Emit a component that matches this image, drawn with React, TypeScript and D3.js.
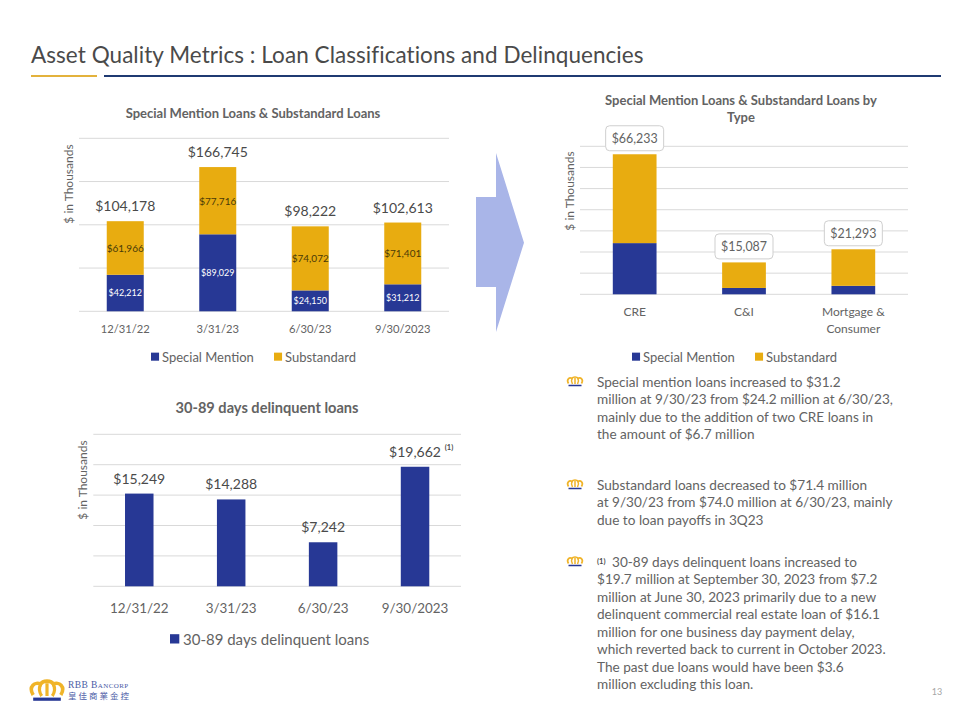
import React from "react";
import * as d3 from "d3";

const FONT = "Lato, 'Noto Sans', sans-serif";
const INK = "#636363";
const DARK = "#4a4a4a";
const GRID = "#d9d9d9";
const BLUE = "#273895";
const GOLD = "#e8ac10";

const quarters = ["12/31/22", "3/31/23", "6/30/23", "9/30/2023"];
const specialMention = [42212, 89029, 24150, 31212];
const substandard = [61966, 77716, 74072, 71401];
const quarterTotals = [104178, 166745, 98222, 102613];

const loanTypes = ["CRE", "C&I", "Mortgage &|Consumer"];
const typeSpecial = [24212, 3000, 4000];
const typeSubstandard = [42021, 12087, 17293];
const typeTotals = [66233, 15087, 21293];

const delinquent = [15249, 14288, 7242, 19662];

const bulletOne = [
  "Special mention loans increased to $31.2",
  "million at 9/30/23 from $24.2 million at 6/30/23,",
  "mainly due to the addition of two CRE loans in",
  "the amount of $6.7 million",
];
const bulletTwo = [
  "Substandard loans decreased to $71.4 million",
  "at 9/30/23 from $74.0 million at 6/30/23, mainly",
  "due to loan payoffs in 3Q23",
];
const bulletThree = [
  "30-89 days delinquent loans increased to",
  "$19.7 million at September 30, 2023 from $7.2",
  "million at June 30, 2023 primarily due to a new",
  "delinquent commercial real estate loan of $16.1",
  "million for one business day payment delay,",
  "which reverted back to current in October 2023.",
  "The past due loans would have been $3.6",
  "million excluding this loan.",
];

const money = (v: number) => "$" + d3.format(",")(v);

function Crown({ x, y, w }: { x: number; y: number; w: number }) {
  const s = w / 32;
  return (
    <g transform={`translate(${x},${y}) scale(${s})`} fill="none">
      <path d="M3 15C-2 7 5 2 10 5C12 1 20 1 22 5C27 2 34 7 29 15" stroke="#f0b429" strokeWidth={3.4} />
      <path d="M10 5C8 9 9 13 11 16M22 5C24 9 23 13 21 16M16 4V16" stroke="#f0b429" strokeWidth={3} />
      <rect x={3} y={17.5} width={26} height={3} fill={BLUE} />
    </g>
  );
}

function Legend({ x, y, size, gap, items }: { x: number; y: number; size: number; gap: number; items: { label: string; color: string; dx: number }[] }) {
  const sw = size * 0.62;
  return (
    <g>
      {items.map((it) => (
        <g key={it.label}>
          <rect x={x + it.dx} y={y - size * 0.72} width={sw} height={sw} fill={it.color} />
          <text x={x + it.dx + gap} y={y} fontSize={size} fill={INK}>{it.label}</text>
        </g>
      ))}
    </g>
  );
}

function YTitle({ x, y, size }: { x: number; y: number; size: number }) {
  return (
    <text transform={`translate(${x},${y}) rotate(-90)`} textAnchor="middle" fontSize={size} fill={INK}>$ in Thousands</text>
  );
}

function QuarterStack() {
  const x = d3.scaleBand<string>().domain(quarters).range([79, 449]).paddingInner(0.6).paddingOuter(0.3);
  const y = d3.scaleLinear().domain([0, 200000]).range([311.3, 138.3]);
  const stack = d3.stack<number>().keys(["a", "b"]).value((i, k) => (k === "a" ? specialMention[i] : substandard[i]));
  const layers = stack(quarters.map((_, i) => i));
  return (
    <g>
      <text x={253} y={118} textAnchor="middle" fontSize={13} fontWeight={700} fill={INK}>Special Mention Loans &amp; Substandard Loans</text>
      {y.ticks(4).map((t) => <line key={t} x1={79} x2={449} y1={y(t)} y2={y(t)} stroke={GRID} />)}
      {layers.map((layer, li) => layer.map((d, i) => (
        <rect key={`${li}-${i}`} x={x(quarters[i])} width={x.bandwidth()} y={y(d[1])} height={y(d[0]) - y(d[1])} fill={li === 0 ? BLUE : GOLD} />
      )))}
      {quarters.map((q, i) => {
        const cx = x(q)! + x.bandwidth() / 2;
        return (
          <g key={q} textAnchor="middle">
            <text x={cx} y={y(specialMention[i] / 2) + 3} fontSize={9} fill="#fff">{money(specialMention[i])}</text>
            <text x={cx} y={y(specialMention[i] + substandard[i] / 2) + 4} fontSize={10} fill="#4a3a08">{money(substandard[i])}</text>
            <text x={cx} y={y(quarterTotals[i]) - 10} fontSize={14} fill={DARK}>{money(quarterTotals[i])}</text>
            <text x={cx} y={333} fontSize={11.2} fill={INK}>{q}</text>
          </g>
        );
      })}
      <YTitle x={73} y={184} size={12} />
      <Legend x={151} y={362} size={13} gap={11} items={[{ label: "Special Mention", color: BLUE, dx: 0 }, { label: "Substandard", color: GOLD, dx: 123 }]} />
    </g>
  );
}

function TypeStack() {
  const x = d3.scaleBand<string>().domain(loanTypes).range([580, 908]).paddingInner(0.6).paddingOuter(0.3);
  const y = d3.scaleLinear().domain([0, 70000]).range([294.3, 146.3]);
  return (
    <g>
      <text textAnchor="middle" fontSize={13} fontWeight={700} fill={INK}>
        <tspan x={741} y={105}>Special Mention Loans &amp; Substandard Loans by</tspan>
        <tspan x={741} y={122}>Type</tspan>
      </text>
      {y.ticks(7).map((t) => <line key={t} x1={580} x2={908} y1={y(t)} y2={y(t)} stroke={GRID} />)}
      {loanTypes.map((t, i) => {
        const bx = x(t)!;
        const cx = bx + x.bandwidth() / 2;
        const yTop = y(typeSpecial[i] + typeSubstandard[i]);
        return (
          <g key={t} textAnchor="middle">
            <rect x={bx} width={x.bandwidth()} y={y(typeSpecial[i])} height={y(0) - y(typeSpecial[i])} fill={BLUE} />
            <rect x={bx} width={x.bandwidth()} y={yTop} height={y(typeSpecial[i]) - yTop} fill={GOLD} />
            <rect x={cx - 29} y={yTop - 28.5} width={58} height={25} rx={4} fill="#fff" stroke="#cfcfcf" />
            <text x={cx} y={yTop - 11} fontSize={13.5} textLength={46} lengthAdjust="spacingAndGlyphs" fill={INK}>{money(typeTotals[i])}</text>
            {t.split("|").map((part, k) => (
              <text key={part} x={cx} y={316 + k * 17} fontSize={12} fill={INK}>{part}</text>
            ))}
          </g>
        );
      })}
      <YTitle x={574} y={191} size={12} />
      <Legend x={632} y={362} size={13} gap={11} items={[{ label: "Special Mention", color: BLUE, dx: 0 }, { label: "Substandard", color: GOLD, dx: 123 }]} />
    </g>
  );
}

function DelinquentBars() {
  const x = d3.scaleBand<string>().domain(quarters).range([93.3, 461]).paddingInner(0.69).paddingOuter(0.345);
  const y = d3.scaleLinear().domain([0, 25000]).range([586.3, 434.3]);
  return (
    <g>
      <text x={267} y={413} textAnchor="middle" fontSize={14.6} fontWeight={700} fill={INK}>30-89 days delinquent loans</text>
      {y.ticks(5).map((t) => <line key={t} x1={93.3} x2={461} y1={y(t)} y2={y(t)} stroke={GRID} />)}
      {quarters.map((q, i) => {
        const cx = x(q)! + x.bandwidth() / 2;
        return (
          <g key={q} textAnchor="middle">
            <rect x={x(q)} width={x.bandwidth()} y={y(delinquent[i])} height={y(0) - y(delinquent[i])} fill={BLUE} />
            <text x={cx} y={y(delinquent[i]) - 10} fontSize={14} fill={DARK}>{money(delinquent[i])}</text>
            <text x={cx} y={613} fontSize={13.4} fill={INK}>{q}</text>
          </g>
        );
      })}
      <text x={449} y={450} textAnchor="middle" fontSize={7.5} fontWeight={700} fill={DARK}>(1)</text>
      <YTitle x={87} y={480} size={12} />
      <Legend x={170} y={645} size={15} gap={13} items={[{ label: "30-89 days delinquent loans", color: BLUE, dx: 0 }]} />
    </g>
  );
}

function Bullets() {
  const blocks = [
    { lines: bulletOne, top: 387 },
    { lines: bulletTwo, top: 490 },
    { lines: bulletThree, top: 567 },
  ];
  return (
    <g fontSize={13.6} fill={INK}>
      {blocks.map((b, k) => (
        <g key={k}>
          <Crown x={567} y={b.top - 11} w={16} />
          {b.lines.map((l, i) => (
            <text key={i} x={k === 2 && i === 0 ? 612 : 597} y={b.top + i * 17.45}>{l}</text>
          ))}
        </g>
      ))}
      <text x={597} y={564} fontSize={7.5} fontWeight={700} fill={DARK}>(1)</text>
    </g>
  );
}

export default function App() {
  return (
    <svg width={960} height={720} viewBox="0 0 960 720" fontFamily={FONT} style={{ position: "absolute", left: 0, top: 0, background: "#fff" }}>
      <text x={31} y={63} fontSize={22.5} letterSpacing={0.05} fill={DARK}>Asset Quality Metrics : Loan Classifications and Delinquencies</text>
      <rect x={31} y={75} width={66} height={2} fill="#e3b23c" />
      <rect x={104} y={75} width={837} height={2} fill="#1f3a72" />
      <polygon points="476,197 496,197 496,153 524,242.7 496,332 496,287 476,287" fill="#a9b5e8" />
      <QuarterStack />
      <TypeStack />
      <DelinquentBars />
      <Bullets />
      <Crown x={30} y={679} w={34} />
      <text x={68} y={688} fontSize={9.5} fontFamily="'Liberation Serif', serif" fill="#4a5aa5" letterSpacing={0.4} style={{ fontVariant: "small-caps" }}>RBB Bancorp</text>
      <text x={68} y={699} fontSize={8.5} fontFamily="'Noto Sans CJK TC', sans-serif" fill="#4a5aa5" letterSpacing={2}>皇佳商業金控</text>
      <text x={937} y={695} textAnchor="middle" fontSize={9} fill="#a6a6a6">13</text>
    </svg>
  );
}
